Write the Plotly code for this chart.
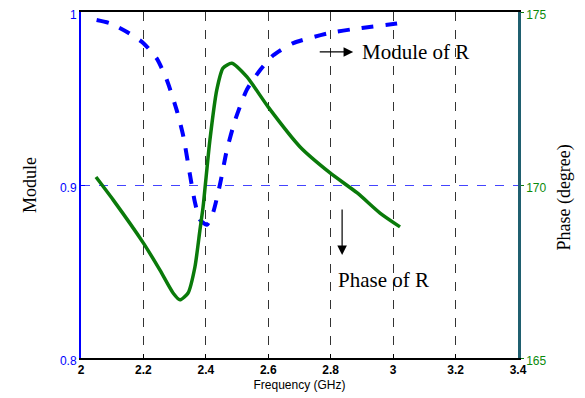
import plotly.graph_objects as go

# Module of R (blue dashed)
mod_freq = [2.05, 2.093, 2.146, 2.2, 2.243, 2.275, 2.307, 2.328, 2.349, 2.365, 2.381, 2.403,
            2.423, 2.446, 2.467, 2.494, 2.531, 2.574, 2.616, 2.68, 2.8, 2.9, 3.0, 3.022]
mod_val = [0.9954, 0.9935, 0.9886, 0.982, 0.973, 0.9607, 0.943, 0.928, 0.906, 0.89, 0.88, 0.877,
           0.884, 0.901, 0.920, 0.9376, 0.955, 0.9665, 0.975, 0.982, 0.988, 0.9908, 0.993, 0.9936]

# Phase of R (green solid)
ph_freq = [2.048, 2.103, 2.2, 2.253, 2.295, 2.317, 2.343, 2.365, 2.381, 2.391, 2.413, 2.435,
           2.455, 2.483, 2.531, 2.6, 2.702, 2.798, 2.885, 2.958, 3.022]
ph_val = [170.23, 169.57, 168.32, 167.54, 166.88, 166.68, 166.88, 167.63, 168.7, 169.36, 171.3, 172.75,
          173.38, 173.52, 173.13, 172.25, 171.1, 170.35, 169.77, 169.19, 168.79]

x_ticks = [2, 2.2, 2.4, 2.6, 2.8, 3, 3.2, 3.4]
mod_ticks = [0.8, 0.9, 1]
ph_ticks = [165, 170, 175]

fig = go.Figure()
fig.add_trace(go.Scatter(x=mod_freq, y=mod_val, mode="lines", line=dict(color="#0000ff", width=4, dash="dash", shape="spline", smoothing=0.6),
                         showlegend=False))
fig.add_trace(go.Scatter(x=ph_freq, y=ph_val, mode="lines", yaxis="y2", line=dict(color="#0a7a0a", width=3.5, shape="spline", smoothing=0.6),
                         showlegend=False))

# page body has an 8px margin, so the figure is 8px smaller and offsets reduced
fig.update_layout(
    width=577, height=390,
    margin=dict(l=73, r=67, t=4, b=40, autoexpand=False),
    plot_bgcolor="white", paper_bgcolor="white",
    xaxis=dict(range=[2, 3.4], tickvals=x_ticks, ticktext=[str(v) for v in x_ticks], automargin=False,
               showgrid=True, gridcolor="#333333", griddash="dash", gridwidth=1,
               showline=True, linecolor="black", linewidth=2, mirror=True,
               ticks="inside", ticklen=4, tickcolor="black", zeroline=False,
               tickfont=dict(family="Liberation Sans, Arial", size=12, color="black", weight="bold"),
               title=dict(text="Frequency (GHz)", font=dict(family="Liberation Sans, Arial", size=12, color="black"), standoff=4)),
    yaxis=dict(range=[0.8, 1], tickvals=mod_ticks, ticktext=["0.8", "0.9", "1"], automargin=False,
               showgrid=True, gridcolor="#4444ff", griddash="dash", gridwidth=1,
               showline=True, linecolor="#0000ff", linewidth=2, zeroline=False,
               ticks="inside", ticklen=4, tickcolor="#0000ff", ticklabeloverflow="allow", ticklabelshift=3,
               tickfont=dict(family="Liberation Sans, Arial", size=12, color="#0000ff")),
    yaxis2=dict(range=[165, 175], tickvals=ph_ticks, overlaying="y", side="right", automargin=False,
                showgrid=False, showline=True, linecolor="#1f5f6f", linewidth=2.5, zeroline=False,
                ticks="outside", ticklen=3, tickcolor="#0a7a0a", ticklabeloverflow="allow", ticklabelshift=3,
                tickfont=dict(family="Liberation Sans, Arial", size=12, color="#0a8a0a")),
)

serif_ax = dict(family="Liberation Serif, Times New Roman", size=18, color="black")
serif = dict(family="Liberation Serif, Times New Roman", size=21, color="black")
fig.add_annotation(x=-0.144, y=0.5, xref="paper", yref="paper", text="Module", textangle=-90,
                   showarrow=False, font=serif_ax)
fig.add_annotation(x=1.135, y=0.465, xref="paper", yref="paper", text="Phase (degree)", textangle=-90,
                   showarrow=False, font=serif_ax)
fig.add_annotation(x=2.872, y=0.9769, ax=2.760, ay=0.9769, xref="x", yref="y", axref="x", ayref="y",
                   text="", showarrow=True, arrowhead=2, arrowsize=1.6, arrowwidth=1.2, arrowcolor="black")
fig.add_annotation(x=3.071, y=0.9769, xref="x", yref="y", text="Module of R", showarrow=False, font=serif)
fig.add_annotation(x=2.8365, y=0.8595, ax=2.8365, ay=0.8867, xref="x", yref="y", axref="x", ayref="y",
                   text="", showarrow=True, arrowhead=2, arrowsize=1.6, arrowwidth=1.2, arrowcolor="black")
fig.add_annotation(x=2.968, y=0.8451, xref="x", yref="y", text="Phase of R", showarrow=False, font=serif)

fig.write_html("out.html")
